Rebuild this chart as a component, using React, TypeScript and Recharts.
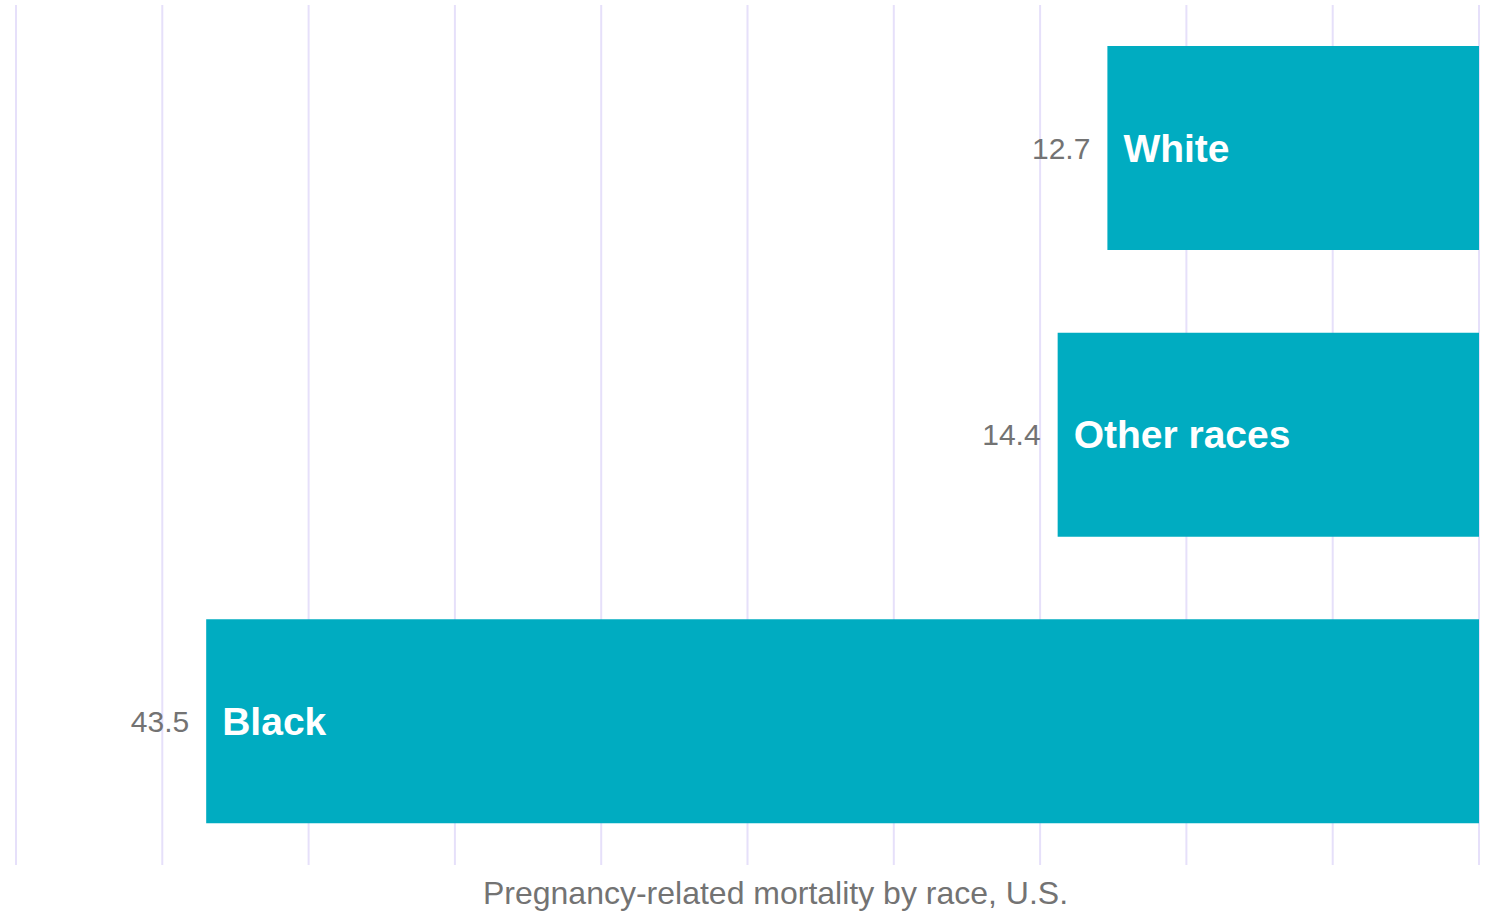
import React from "react";
import { BarChart, Bar, XAxis, YAxis, CartesianGrid, LabelList } from "recharts";

const races = ["White", "Other races", "Black"];
const mortality = [12.7, 14.4, 43.5];
const xTicks = [0, 5, 10, 15, 20, 25, 30, 35, 40, 45, 50];

const data = races.map((name, i) => ({ name, value: mortality[i] }));

const FONT = "'Liberation Sans', Arial, sans-serif";
const BAR_COLOR = "#00acc1";
const GRID_COLOR = "#e6e0fa";
const TEXT_GRAY = "#737373";

function ValueLabel(props: any) {
	const { x, y, width, height, value } = props;
	const left = Math.min(x, x + width);
	return (
		<text
			x={left - 17}
			y={y + height / 2}
			textAnchor="end"
			dominantBaseline="central"
			fill={TEXT_GRAY}
			fontSize={30}
			fontFamily={FONT}
		>
			{value}
		</text>
	);
}

function NameLabel(props: any) {
	const { x, y, width, height, value } = props;
	const left = Math.min(x, x + width);
	return (
		<text
			x={left + 16}
			y={y + height / 2}
			textAnchor="start"
			dominantBaseline="central"
			fill="#ffffff"
			fontSize={39}
			fontWeight="bold"
			fontFamily={FONT}
		>
			{value}
		</text>
	);
}

export default function App() {
	return (
		<div style={{ position: "absolute", left: 0, top: 0, width: 1496, height: 912, background: "#fff" }}>
			<BarChart
				width={1496}
				height={912}
				data={data}
				layout="vertical"
				margin={{ top: 5, right: 17, bottom: 0, left: 16 }}
			>
				<CartesianGrid horizontal={false} stroke={GRID_COLOR} strokeWidth={2} />
				<XAxis
					type="number"
					domain={[0, 50]}
					ticks={xTicks}
					reversed
					tick={() => <g />}
					axisLine={false}
					tickLine={false}
					height={47}
					label={(p: any) => {
						const vb = p.viewBox;
						return (
							<text
								x={vb.x + vb.width / 2 + 28}
								y={904}
								textAnchor="middle"
								fill={TEXT_GRAY}
								fontSize={32}
								fontFamily={FONT}
							>
								Pregnancy-related mortality by race, U.S.
							</text>
						);
					}}
				/>
				<YAxis type="category" dataKey="name" hide />
				<Bar dataKey="value" fill={BAR_COLOR} barSize={204} isAnimationActive={false}>
					<LabelList dataKey="value" content={ValueLabel} />
					<LabelList dataKey="name" content={NameLabel} />
				</Bar>
			</BarChart>
		</div>
	);
}
